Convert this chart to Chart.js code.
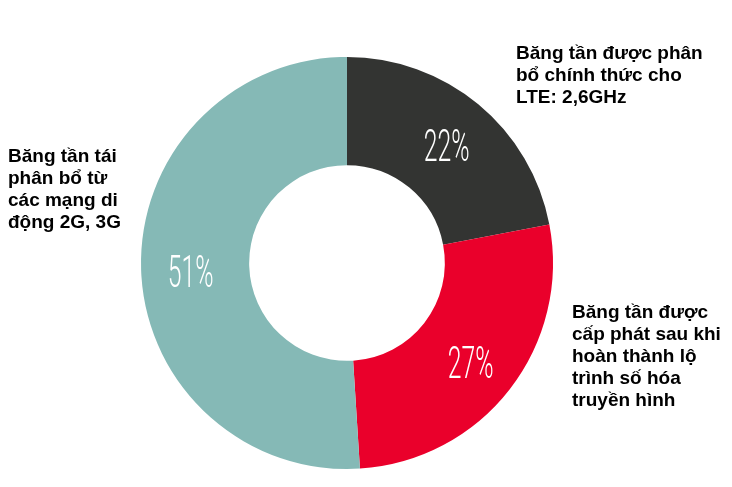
<!DOCTYPE html>
<html>
<head>
<meta charset="utf-8">
<script src="https://cdn.jsdelivr.net/npm/chart.js@4.4.1/dist/chart.umd.min.js"></script>
<style>
html,body{margin:0;padding:0;background:#fff;}
#wrap{position:relative;width:732px;height:487px;}
</style>
</head>
<body>
<div id="wrap"><canvas id="c" width="732" height="487"></canvas></div>
<script>
const categories = [
  ["Băng tần được phân", "bổ chính thức cho", "LTE: 2,6GHz"],
  ["Băng tần được", "cấp phát sau khi", "hoàn thành lộ", "trình số hóa", "truyền hình"],
  ["Băng tần tái", "phân bổ từ", "các mạng di", "động 2G, 3G"]
];
const values = [22, 27, 51];
const percentLabels = ["22%", "27%", "51%"];
const colors = ["#333432", "#EA002B", "#85B9B6"];
const labelAnchors = [[516, 59], [572, 318], [8, 162]];

const labelPlugin = {
  id: 'labels',
  afterDatasetsDraw(chart) {
    const ctx = chart.ctx;
    const meta = chart.getDatasetMeta(0);
    meta.data.forEach((arc, i) => {
      const p = arc.getProps(['x','y','startAngle','endAngle','innerRadius','outerRadius'], true);
      const mid = (p.startAngle + p.endAngle) / 2;
      const r = (p.innerRadius + p.outerRadius) / 2 * 1.03;
      const x = p.x + Math.cos(mid) * r;
      const y = p.y + Math.sin(mid) * r;
      ctx.save();
      ctx.translate(x, y);
      ctx.scale(0.55, 1);
      ctx.fillStyle = '#ffffff';
      ctx.font = '300 45px Roboto';
      ctx.textAlign = 'center';
      ctx.textBaseline = 'alphabetic';
      ctx.fillText(percentLabels[i], 0, 19);
      ctx.restore();
    });
    ctx.save();
    ctx.fillStyle = '#000';
    ctx.font = 'bold 19px "Liberation Sans", Arial, sans-serif';
    ctx.textAlign = 'left';
    ctx.textBaseline = 'alphabetic';
    categories.forEach((lines, i) => {
      const [ax, ay] = labelAnchors[i];
      lines.forEach((ln, j) => ctx.fillText(ln, ax, ay + j * 22));
    });
    ctx.restore();
  }
};

new Chart(document.getElementById('c'), {
  type: 'doughnut',
  data: {
    labels: categories.map(l => l.join(' ')),
    datasets: [{
      data: values,
      backgroundColor: colors,
      borderWidth: 0,
      hoverOffset: 0
    }]
  },
  options: {
    responsive: false,
    animation: false,
    cutout: '47.5%',
    layout: { padding: { top: 57, bottom: 18, left: 141, right: 179 } },
    plugins: { legend: { display: false }, tooltip: { enabled: false } }
  },
  plugins: [labelPlugin]
});
</script>
</body>
</html>
